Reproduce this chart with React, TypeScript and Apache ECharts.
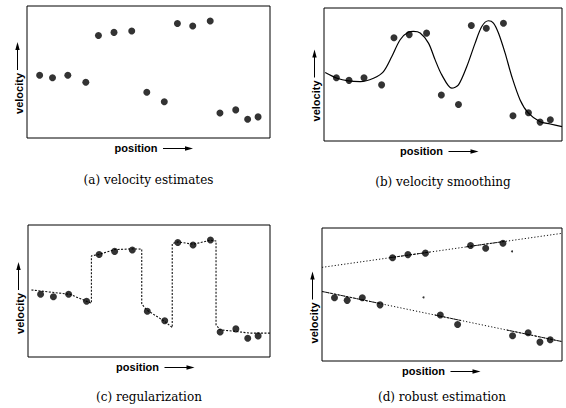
import React, { useEffect, useRef } from "react";
import * as echarts from "echarts";

// ---- data ----
const POSITION = [5.2, 10.5, 16.8, 24.2, 29.4, 35.8, 43.1, 49.3, 56.5, 61.9, 68.2, 75.4, 79.4, 85.9, 90.8, 95.1];
const VELOCITY = [47.5, 45.6, 47.6, 42.2, 77.6, 80.0, 81.1, 34.6, 27.4, 86.8, 84.8, 88.6, 19.0, 21.3, 14.2, 16.0];

// (b) smoothed curve
const SMOOTH_X = [0.5, 5.5, 10.3, 15.2, 20.8, 25.0, 28.5, 32.0, 35.5, 37.6, 40.4, 43.9, 46.7, 49.5, 53.7, 56.5, 60.0, 63.5, 66.3, 69.1, 71.2, 73.3, 76.1, 78.9, 82.4, 85.9, 90.8, 95.0, 100];
const SMOOTH_V = [51.5, 47.2, 45.2, 44.7, 47.2, 52.2, 63.5, 76.1, 81.9, 82.4, 81.2, 73.6, 61.0, 49.7, 39.7, 42.2, 56.0, 73.6, 86.1, 90.4, 88.7, 81.2, 66.1, 48.5, 30.9, 20.9, 14.5, 12.8, 10.8];

// (c) regularized piecewise fit
const REG_X = [1.4, 10, 17.3, 26.2, 26.2, 29.3, 35.9, 43.4, 47.0, 47.0, 49.0, 56.6, 59.6, 59.6, 62.1, 68.3, 75.4, 77.7, 77.7, 79.3, 86.2, 91.7, 100];
const REG_V = [50.8, 49.0, 47.5, 40.7, 76.6, 77.7, 81.4, 81.9, 81.7, 40.2, 35.7, 26.8, 22.3, 86.0, 87.2, 85.4, 88.5, 87.9, 24.4, 20.6, 19.3, 18.1, 18.1];

// (d) robust estimation: two lines (dotted) with solid stretches near the data
const UPPER_X = [0, 100];
const UPPER_V = [70.4, 96.0];
const LOWER_X = [0, 100];
const LOWER_V = [52.3, 14.6];
const UPPER_SOLID_X = [28, 45, null, 60, 76];
const UPPER_SOLID_V = [77.6, 81.9, null, 85.8, 89.9];
const LOWER_SOLID_X = [0, 24, null, 47, 58, null, 77, 100];
const LOWER_SOLID_V = [52.3, 43.3, null, 34.6, 30.4, null, 23.3, 14.6];
const SPECK_X = [79.2, 42.3];
const SPECK_V = [82.4, 47.8];

const CAPTIONS = ["(a) velocity estimates", "(b) velocity smoothing", "(c) regularization", "(d) robust estimation"];
const X_NAME = "position";
const Y_NAME = "velocity";

// ---- layout ----
const GRIDS = [
  { left: 27, top: 6, width: 243, height: 132 },
  { left: 324, top: 8, width: 238, height: 133 },
  { left: 28, top: 225, width: 242, height: 132 },
  { left: 322, top: 228, width: 240, height: 133 },
];
const X_PAD = [25, 43, 23, 37];
const Y_PAD = [1, 6, 2, 8];
const CAPTION_Y = [180, 182, 397, 397];
const NAME_LEN = 42;

const pairs = (xs: (number | null)[], ys: (number | null)[]) =>
  xs.map((x, i) => (x === null ? ["-", "-"] : [x, ys[i]]));

export default function App() {
  const ref = useRef<HTMLDivElement>(null);
  useEffect(() => {
    if (!ref.current) return;
    const chart = echarts.init(ref.current, undefined, { renderer: "svg" });
    const baseFont = {
      fontFamily: "Liberation Sans",
      fontSize: 11,
      fontWeight: "bold",
      color: "#000",
    };
    const hidden = {
      axisLine: { show: false },
      axisTick: { show: false },
      axisLabel: { show: false },
      splitLine: { show: false },
    };
    const graphics: any[] = [];
    GRIDS.forEach((g, i) => {
      const cx = g.left + g.width / 2;
      const cy = g.top + g.height / 2;
      // x arrow: after the "position" text
      const textEnd = cx - X_PAD[i] / 2 + NAME_LEN / 2;
      const ay = g.top + g.height + 10.5;
      const x1 = textEnd + 6;
      const x2 = x1 + 30;
      graphics.push({ type: "line", shape: { x1, y1: ay, x2: x2 - 6, y2: ay }, style: { stroke: "#000", lineWidth: 1 } });
      graphics.push({ type: "polygon", shape: { points: [[x2 - 8, ay - 2.2], [x2, ay], [x2 - 8, ay + 2.2]] }, style: { fill: "#000" } });
      // y arrow: above the "velocity" text
      const ax = g.left - 9.5;
      const yTail = cy + Y_PAD[i] - 3;
      const yHead = yTail - 28;
      graphics.push({ type: "line", shape: { x1: ax, y1: yTail, x2: ax, y2: yHead + 6 }, style: { stroke: "#000", lineWidth: 1 } });
      graphics.push({ type: "polygon", shape: { points: [[ax - 2.2, yHead + 8], [ax, yHead], [ax + 2.2, yHead + 8]] }, style: { fill: "#000" } });
      graphics.push({
        type: "text",
        x: cx,
        y: CAPTION_Y[i],
        style: { text: CAPTIONS[i], fill: "#000", font: "12px 'DejaVu Serif'", textAlign: "center", textVerticalAlign: "middle" },
      });
    });
    const dots = (i: number) => ({
      type: "scatter",
      xAxisIndex: i,
      yAxisIndex: i,
      symbol: "circle",
      symbolSize: 7,
      itemStyle: { color: "#000" },
      data: pairs(POSITION, VELOCITY),
      z: 5,
    });
    chart.setOption({
      animation: false,
      backgroundColor: "#fff",
      grid: GRIDS.map((g) => ({ ...g, show: true, borderColor: "#000", borderWidth: 1, backgroundColor: "transparent" })),
      xAxis: GRIDS.map((_, i) => ({
        type: "value",
        gridIndex: i,
        min: 0,
        max: 100,
        ...hidden,
        name: X_NAME,
        nameLocation: "middle",
        nameGap: 4,
        nameTextStyle: { ...baseFont, padding: [0, X_PAD[i], 0, 0] },
      })),
      yAxis: GRIDS.map((_, i) => ({
        type: "value",
        gridIndex: i,
        min: 0,
        max: 100,
        ...hidden,
        name: Y_NAME,
        nameLocation: "middle",
        nameRotate: 90,
        nameGap: 3,
        nameTextStyle: { ...baseFont, align: "right", padding: [0, Y_PAD[i], 0, 0] },
      })),
      graphic: graphics,
      series: [
        dots(0),
        dots(1),
        {
          type: "line",
          xAxisIndex: 1,
          yAxisIndex: 1,
          smooth: 0.3,
          showSymbol: false,
          lineStyle: { color: "#000", width: 1.2 },
          data: pairs(SMOOTH_X, SMOOTH_V),
        },
        dots(2),
        {
          type: "line",
          xAxisIndex: 2,
          yAxisIndex: 2,
          showSymbol: false,
          lineStyle: { color: "#111", width: 1.1, type: [2, 1.5] },
          data: pairs(REG_X, REG_V),
        },
        dots(3),
        {
          type: "line",
          xAxisIndex: 3,
          yAxisIndex: 3,
          showSymbol: false,
          lineStyle: { color: "#111", width: 1, type: [1.2, 2] },
          data: pairs(UPPER_X, UPPER_V),
        },
        {
          type: "line",
          xAxisIndex: 3,
          yAxisIndex: 3,
          showSymbol: false,
          lineStyle: { color: "#111", width: 1, type: [1.2, 2] },
          data: pairs(LOWER_X, LOWER_V),
        },
        {
          type: "line",
          xAxisIndex: 3,
          yAxisIndex: 3,
          showSymbol: false,
          connectNulls: false,
          lineStyle: { color: "#111", width: 1, type: [3, 1] },
          data: pairs(UPPER_SOLID_X, UPPER_SOLID_V),
        },
        {
          type: "line",
          xAxisIndex: 3,
          yAxisIndex: 3,
          showSymbol: false,
          connectNulls: false,
          lineStyle: { color: "#111", width: 1, type: [3, 1] },
          data: pairs(LOWER_SOLID_X, LOWER_SOLID_V),
        },
        {
          type: "scatter",
          xAxisIndex: 3,
          yAxisIndex: 3,
          symbolSize: 2,
          itemStyle: { color: "#000" },
          data: pairs(SPECK_X, SPECK_V),
        },
      ],
    });
    return () => chart.dispose();
  }, []);
  return <div ref={ref} style={{ position: "fixed", left: 0, top: 0, width: 566, height: 408 }} />;
}
